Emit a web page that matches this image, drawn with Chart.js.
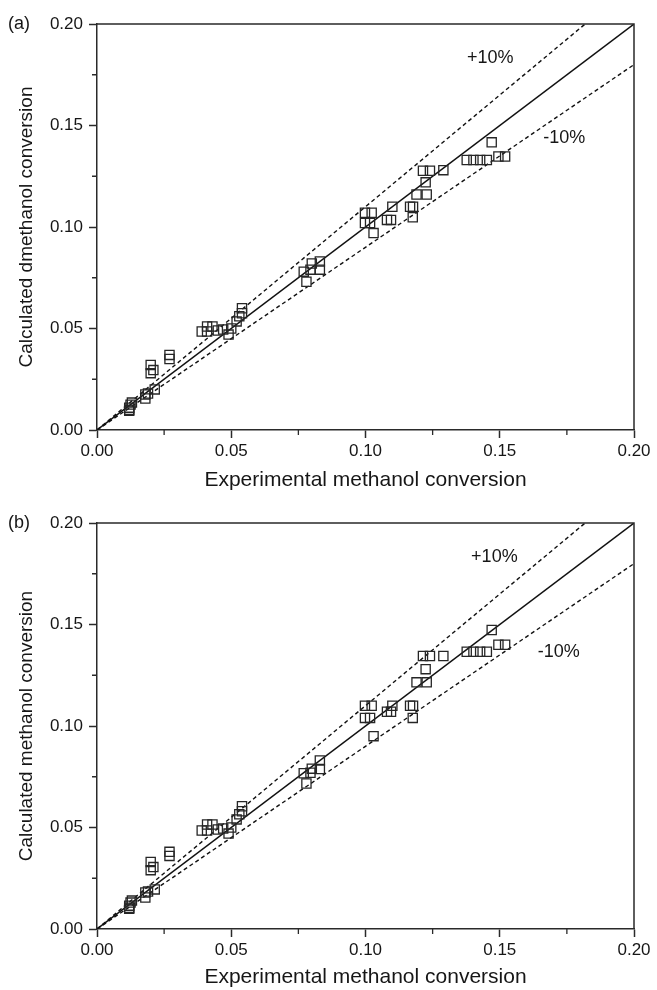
<!DOCTYPE html>
<html>
<head>
<meta charset="utf-8">
<script src="https://cdn.jsdelivr.net/npm/chart.js@4.4.1/dist/chart.umd.min.js"></script>
<style>
    body { margin: 0; background: #ffffff; }
    #wrap { position: relative; width: 657px; height: 990px; overflow: hidden; }
    #chart-a { position: absolute; left: 0; top: 0; }
    #chart-b { position: absolute; left: 0; top: 499px; }
</style>
</head>
<body>
<div id="wrap">
    <canvas id="chart-a" width="657" height="495" style="width:657px;height:495px"></canvas>
    <canvas id="chart-b" width="657" height="491" style="width:657px;height:491px"></canvas>
</div>
<script>
// experimental conversion (same runs in both panels)
var expX = [
    0.012, 0.012, 0.0125, 0.013, 0.012,
    0.018, 0.019, 0.0215, 0.018,
    0.020, 0.021, 0.020, 0.027, 0.027,
    0.039, 0.041, 0.043, 0.041, 0.045, 0.047, 0.049, 0.050,
    0.052, 0.053, 0.054, 0.054,
    0.078, 0.077, 0.0795, 0.083, 0.080, 0.083,
    0.0998, 0.1023, 0.0998, 0.1017, 0.103, 0.108, 0.1095, 0.110,
    0.1166, 0.1177, 0.1176, 0.119, 0.1228, 0.1224, 0.1214, 0.124, 0.129,
    0.1377, 0.1402, 0.1427, 0.1452, 0.147, 0.1495, 0.152
];

// calculated conversion, panel (a)
var calcA = [
    0.0095, 0.011, 0.0125, 0.0135, 0.010,
    0.0155, 0.018, 0.020, 0.0175,
    0.032, 0.0295, 0.028, 0.037, 0.035,
    0.0485, 0.051, 0.051, 0.0485, 0.049, 0.0495, 0.047, 0.050,
    0.0535, 0.056, 0.060, 0.0575,
    0.073, 0.078, 0.079, 0.079, 0.082, 0.083,
    0.107, 0.107, 0.102, 0.102, 0.097, 0.1035, 0.1035, 0.110,
    0.110, 0.110, 0.1048, 0.116, 0.116, 0.122, 0.1277, 0.1277, 0.128,
    0.133, 0.133, 0.133, 0.133, 0.1417, 0.1347, 0.1347
];

// calculated conversion, panel (b)
var calcB = [
    0.010, 0.0115, 0.013, 0.014, 0.0105,
    0.0155, 0.0185, 0.0195, 0.018,
    0.033, 0.0305, 0.029, 0.038, 0.036,
    0.0485, 0.0515, 0.0515, 0.0485, 0.049, 0.0495, 0.047, 0.050,
    0.054, 0.0565, 0.0605, 0.058,
    0.0717, 0.0767, 0.077, 0.0788, 0.079, 0.083,
    0.110, 0.110, 0.104, 0.104, 0.095, 0.107, 0.107, 0.110,
    0.110, 0.110, 0.104, 0.1215, 0.1215, 0.128, 0.1345, 0.1345, 0.1345,
    0.1366, 0.1366, 0.1366, 0.1366, 0.1473, 0.140, 0.140
];

var axisMin = 0;
var axisMax = 0.2;
var majorStep = 0.05;
var minorStep = 0.025;
var lineX = [0, 0.2];
var plusFactor = 1.1;
var minusFactor = 0.9;

var fontName = "'Liberation Sans', Arial, sans-serif";
var axisColor = "#2a2a2a";
var textColor = "#161616";

function makePoints(xs, ys) {
    var pts = [];
    for (var i = 0; i < xs.length; i++) {
        pts.push({ x: xs[i], y: ys[i] });
    }
    return pts;
}

function makeLine(factor) {
    var pts = [];
    for (var i = 0; i < lineX.length; i++) {
        pts.push({ x: lineX[i], y: lineX[i] * factor });
    }
    return pts;
}

// top/right box and short minor ticks, plus the text labels
var framePlugin = {
    id: "frame",
    afterDraw: function (chart, args, opts) {
        var ctx = chart.ctx;
        var area = chart.chartArea;
        var xs = chart.scales.x;
        var ys = chart.scales.y;

        ctx.save();
        ctx.strokeStyle = axisColor;
        ctx.lineWidth = 1.5;
        ctx.beginPath();
        ctx.moveTo(area.left, area.top);
        ctx.lineTo(area.right, area.top);
        ctx.lineTo(area.right, area.bottom);
        ctx.stroke();

        // minor ticks
        ctx.lineWidth = 1.3;
        for (var v = minorStep; v < axisMax; v += majorStep) {
            var px = xs.getPixelForValue(v);
            var py = ys.getPixelForValue(v);
            ctx.beginPath();
            ctx.moveTo(px, area.bottom);
            ctx.lineTo(px, area.bottom + 5);
            ctx.moveTo(area.left, py);
            ctx.lineTo(area.left - 5, py);
            ctx.stroke();
        }

        ctx.fillStyle = textColor;
        ctx.font = "18px " + fontName;
        ctx.textAlign = "left";
        ctx.textBaseline = "middle";
        ctx.fillText(opts.panel, 8, area.top);

        ctx.font = "18px " + fontName;
        ctx.textAlign = "center";
        ctx.fillText("+10%", xs.getPixelForValue(opts.plusPos[0]), ys.getPixelForValue(opts.plusPos[1]));
        ctx.fillText("-10%", xs.getPixelForValue(opts.minusPos[0]), ys.getPixelForValue(opts.minusPos[1]));
        ctx.restore();
    }
};

function tickColor(c) {
    return c.index % 2 === 0 ? axisColor : "rgba(0,0,0,0)";
}

function tickLabel(value, index) {
    return index % 2 === 0 ? Number(value).toFixed(2) : "";
}

function drawPanel(canvasId, yValues, yTitle, panel, xAxisHeight, xTitlePad, plusPos, minusPos) {
    var ctx = document.getElementById(canvasId).getContext("2d");
    return new Chart(ctx, {
        type: "scatter",
        data: {
            datasets: [
                {
                    data: makePoints(expX, yValues),
                    pointStyle: "rect",
                    pointRadius: 6.5,
                    pointBackgroundColor: "rgba(0,0,0,0)",
                    pointBorderColor: "#262626",
                    pointBorderWidth: 1.3
                },
                {
                    data: makeLine(1),
                    showLine: true,
                    pointRadius: 0,
                    borderColor: "#111111",
                    borderWidth: 1.4
                },
                {
                    data: makeLine(plusFactor),
                    showLine: true,
                    pointRadius: 0,
                    borderColor: "#111111",
                    borderWidth: 1.4,
                    borderDash: [4, 3]
                },
                {
                    data: makeLine(minusFactor),
                    showLine: true,
                    pointRadius: 0,
                    borderColor: "#111111",
                    borderWidth: 1.4,
                    borderDash: [4, 3]
                }
            ]
        },
        options: {
            responsive: false,
            animation: false,
            devicePixelRatio: 1,
            layout: { padding: { top: 24, right: 23, left: 0, bottom: 0 } },
            plugins: {
                legend: { display: false },
                tooltip: { enabled: false },
                frame: { panel: panel, plusPos: plusPos, minusPos: minusPos }
            },
            scales: {
                x: {
                    type: "linear",
                    min: axisMin,
                    max: axisMax,
                    afterFit: function (s) { s.height = xAxisHeight; },
                    ticks: {
                        stepSize: minorStep,
                        autoSkip: false,
                        maxRotation: 0,
                        padding: 3,
                        color: textColor,
                        font: { family: fontName, size: 17 },
                        callback: tickLabel
                    },
                    grid: {
                        drawOnChartArea: false,
                        tickLength: 8,
                        tickWidth: 1.5,
                        tickColor: tickColor
                    },
                    border: { display: true, color: axisColor, width: 1.5 },
                    title: {
                        display: true,
                        text: "Experimental methanol conversion",
                        color: textColor,
                        font: { family: fontName, size: 21 },
                        padding: { top: 0, bottom: xTitlePad }
                    }
                },
                y: {
                    type: "linear",
                    min: axisMin,
                    max: axisMax,
                    afterFit: function (s) { s.width = 97; },
                    ticks: {
                        stepSize: minorStep,
                        autoSkip: false,
                        padding: 6,
                        color: textColor,
                        font: { family: fontName, size: 17 },
                        callback: tickLabel
                    },
                    grid: {
                        drawOnChartArea: false,
                        tickLength: 8,
                        tickWidth: 1.5,
                        tickColor: tickColor
                    },
                    border: { display: true, color: axisColor, width: 1.5 },
                    title: {
                        display: true,
                        text: yTitle,
                        color: textColor,
                        font: { family: fontName, size: 19 },
                        padding: { top: 15, bottom: 0 }
                    }
                }
            }
        },
        plugins: [framePlugin]
    });
}

drawPanel("chart-a", calcA, "Calculated dmethanol conversion", "(a)", 65, 2, [0.1465, 0.183], [0.174, 0.144]);
drawPanel("chart-b", calcB, "Calculated methanol conversion", "(b)", 61, 0, [0.148, 0.183], [0.172, 0.1365]);
</script>
</body>
</html>
